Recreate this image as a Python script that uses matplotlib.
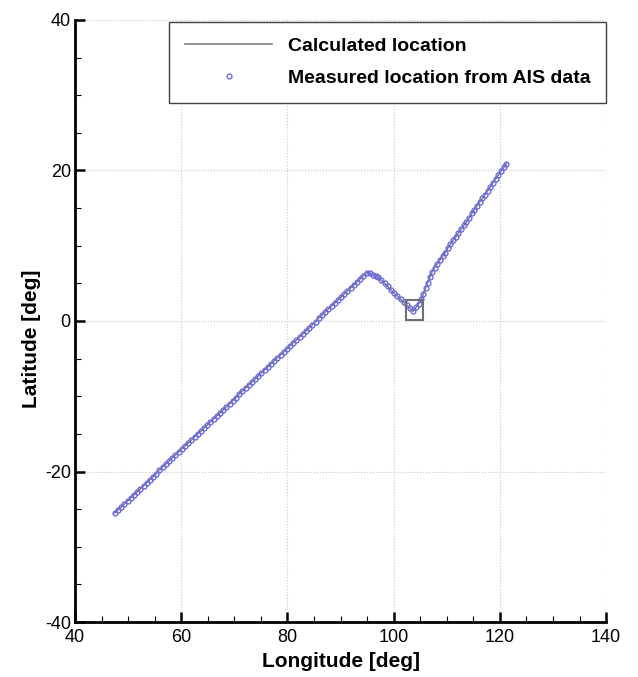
import numpy as np
import matplotlib
matplotlib.use("Agg")
import matplotlib.pyplot as plt
from matplotlib.patches import Rectangle

plt.rcParams['font.family'] = ['Liberation Sans', 'DejaVu Sans']
plt.rcParams['axes.unicode_minus'] = False

# track of the ship (longitude / latitude in deg)
lon_leg1 = [47.5, 48.1, 48.7, 49.3, 49.9, 50.5, 51.1, 51.7, 52.3, 52.9,
            53.5, 54.1, 54.7, 55.3, 55.9, 56.5, 57.1, 57.7, 58.3, 58.9,
            59.5, 60.1, 60.7, 61.3, 61.9, 62.5, 63.1, 63.7, 64.3, 64.9,
            65.5, 66.1, 66.7, 67.3, 67.9, 68.5, 69.1, 69.7, 70.3, 70.9,
            71.5, 72.1, 72.7, 73.3, 73.9, 74.5, 75.1, 75.7, 76.3, 76.9,
            77.5, 78.1, 78.7, 79.3, 79.9, 80.5, 81.1, 81.7, 82.3, 82.9,
            83.5, 84.1, 84.7, 85.3, 85.9, 86.5, 87.1, 87.7, 88.3, 88.9,
            89.5, 90.1, 90.7, 91.3, 91.9, 92.5, 93.1, 93.7, 94.3, 94.9]
lat_leg1 = [-25.5, -25.1, -24.7, -24.3, -23.9, -23.5, -23.1, -22.7, -22.3, -21.9,
            -21.5, -21.1, -20.7, -20.3, -19.8, -19.4, -19.0, -18.6, -18.2, -17.8,
            -17.4, -17.0, -16.6, -16.2, -15.8, -15.4, -15.0, -14.6, -14.2, -13.8,
            -13.4, -13.0, -12.6, -12.2, -11.8, -11.4, -11.0, -10.6, -10.2, -9.7,
            -9.3, -8.9, -8.5, -8.1, -7.7, -7.3, -6.9, -6.5, -6.1, -5.7,
            -5.3, -4.9, -4.5, -4.1, -3.7, -3.3, -2.9, -2.5, -2.1, -1.7,
            -1.3, -0.9, -0.5, -0.1, 0.4, 0.8, 1.2, 1.6, 2.0, 2.4,
            2.8, 3.2, 3.6, 4.0, 4.4, 4.8, 5.2, 5.6, 6.0, 6.4]
lon_leg2 = [95.5, 96.1, 96.6, 97.1, 97.7, 98.3, 98.9, 99.5, 100.1, 100.7,
            101.3, 101.9, 102.5, 103.1, 103.7]
lat_leg2 = [6.4, 6.1, 6.0, 5.8, 5.4, 5.0, 4.6, 4.1, 3.7, 3.3,
            2.9, 2.5, 2.1, 1.7, 1.3]
lon_leg3 = [104.2, 104.7, 105.2, 105.6, 106.0, 106.4, 106.8, 107.2, 107.7, 108.2,
            108.7, 109.2, 109.7, 110.2, 110.7, 111.2, 111.7, 112.2, 112.7, 113.2,
            113.7, 114.2, 114.7, 115.2, 115.7, 116.2, 116.7, 117.2, 117.7, 118.2,
            118.7, 119.2, 119.7, 120.2, 120.7, 121.2]
lat_leg3 = [1.8, 2.3, 2.9, 3.6, 4.4, 5.1, 5.8, 6.5, 7.1, 7.6,
            8.1, 8.6, 9.1, 9.7, 10.2, 10.7, 11.2, 11.7, 12.2, 12.7,
            13.2, 13.7, 14.3, 14.8, 15.3, 15.8, 16.3, 16.8, 17.3, 17.8,
            18.4, 18.9, 19.4, 19.9, 20.4, 20.9]

lon = np.array(lon_leg1 + lon_leg2 + lon_leg3)
lat = np.array(lat_leg1 + lat_leg2 + lat_leg3)

# highlighted region (Singapore strait)
box_lon = (102.3, 105.6)
box_lat = (0.1, 2.8)

fig = plt.figure(figsize=(6.38, 6.77), dpi=100)
ax = fig.add_axes([0.1176, 0.0812, 0.8324, 0.8893])

ax.plot(lon, lat, color='#808080', lw=1.2, label='Calculated location', zorder=2)
ax.plot(lon, lat, ls='none', marker='o', ms=3.5, mfc='none', mec='#6a6ae0',
        mew=1.0, label='Measured location from AIS data', zorder=3)
ax.add_patch(Rectangle((box_lon[0], box_lat[0]), box_lon[1] - box_lon[0],
                       box_lat[1] - box_lat[0], fill=False, ec='#707070', lw=1.5, zorder=4))

ax.set_xlim(40, 140)
ax.set_ylim(-40, 40)
ax.set_xticks(np.arange(40, 141, 20))
ax.set_yticks(np.arange(-40, 41, 20))
ax.set_xticks(np.arange(40, 141, 5), minor=True)
ax.set_yticks(np.arange(-40, 41, 5), minor=True)
ax.grid(True, which='major', ls=':', color='#c8c8c8', lw=0.8)

for s in ['top', 'right']:
    ax.spines[s].set_visible(False)
for s in ['left', 'bottom']:
    ax.spines[s].set_linewidth(2)

ax.tick_params(which='major', direction='in', length=7, width=1.8, labelsize=13, pad=3)
ax.tick_params(axis='x', which='major', pad=5)
ax.tick_params(which='minor', direction='in', length=4, width=0.8)

ax.set_xlabel('Longitude [deg]', fontsize=15, fontweight='bold', labelpad=4)
ax.set_ylabel('Latitude [deg]', fontsize=15, fontweight='bold')
ax.yaxis.set_label_coords(-0.064, 0.47)

leg = ax.legend(loc='upper right', bbox_to_anchor=(1.0, 0.997), borderaxespad=0,
                prop={'weight': 'bold', 'size': 14}, frameon=True, fancybox=False,
                edgecolor='#404040', framealpha=1, handlelength=4.5,
                handletextpad=0.8, borderpad=0.8, labelspacing=0.75)
leg.get_frame().set_linewidth(1.0)

fig.savefig('out.png', dpi=100)
